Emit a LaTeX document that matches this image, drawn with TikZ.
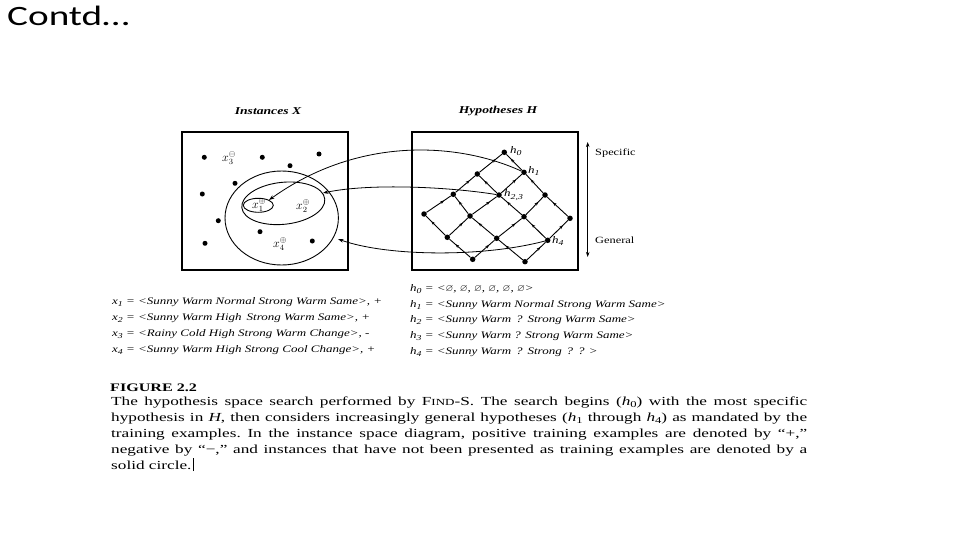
\documentclass[tikz,border=0pt]{standalone}
\usepackage{amssymb}
\usepackage{fontspec}
\setmainfont{Liberation Serif}
\newfontfamily\titlefont[FakeStretch=1.4]{Carlito}
\newfontfamily\capfont[FakeStretch=1.4]{Liberation Serif}
\newfontfamily\figfont[FakeStretch=1.3]{Liberation Serif}
\usetikzlibrary{arrows.meta,decorations.markings}
\newcommand{\sbs}[1]{\raisebox{-0.5ex}{\fontsize{7.5}{7.5}\selectfont #1}}
\newcommand{\capsub}[1]{\raisebox{-0.4ex}{\fontsize{9}{9}\selectfont #1}}
\newcommand{\findS}{F{\fontsize{9.3}{10}\selectfont IND}-S}
\begin{document}
\begin{tikzpicture}[x=1pt,y=-1pt,
  dot/.style={circle,fill=black,inner sep=0pt,minimum size=5.5pt},
  idot/.style={circle,fill=black,inner sep=0pt,minimum size=5pt},
  latedge/.style={line width=0.9pt,postaction={decorate},
    decoration={markings,mark=at position 0.72 with {\arrow{Stealth[length=3.8pt,width=3pt]}}}},
  curve/.style={line width=0.8pt,-{Stealth[length=5.5pt,width=3.8pt]}},
  frame/.style={line width=1.2pt},
  lab/.style={anchor=base west,inner sep=0pt,font={\figfont\fontsize{10}{12}\selectfont\itshape}},
  hlab/.style={anchor=west,inner sep=0pt,font={\figfont\fontsize{10}{12}\selectfont\itshape}},
  title/.style={inner sep=0pt,font={\figfont\fontsize{10.5}{12}\selectfont\bfseries\itshape}},
  sg/.style={anchor=west,inner sep=0pt,font={\figfont\fontsize{9.5}{11}\selectfont}},
  xlab/.style={inner sep=0pt,font={\fontsize{11.5}{13}\selectfont}},
  capl/.style={anchor=base west,inner sep=0pt,font={\capfont\fontsize{12.3}{15}\selectfont\frenchspacing}}]
\useasboundingbox (0,0) rectangle (960,540);
\fill[white] (0,0) rectangle (960,540);

% slide title
\node[anchor=base west,inner sep=0pt,font={\titlefont\fontsize{28}{30}\selectfont}] (contd) at (7,26) {Contd…};

% titles
\node[title] (tinst) at (268,111) {Instances X};
\node[title] (thyp) at (498,111) {Hypotheses H};

% frames
\draw[frame] (182,132) rectangle (348,270);
\draw[frame] (412,132) rectangle (578,270);

% instance dots
\node[idot] (d1) at (204.3,157.3) {};
\node[idot] (d2) at (262.3,157.3) {};
\node[idot] (d3) at (319,154) {};
\node[idot] (d4) at (290,165.7) {};
\node[idot] (d5) at (235,183.3) {};
\node[idot] (d6) at (202.3,194) {};
\node[idot] (d7) at (218.3,220.7) {};
\node[idot] (d8) at (260,231.7) {};
\node[idot] (d9) at (205,243.3) {};
\node[idot] (d10) at (312.3,241) {};

% instance labels
\node[xlab] (x3) at (229,158) {$x^{\ominus}_{3}$};
\node[xlab] (x1) at (259,205) {$x^{\oplus}_{1}$};
\node[xlab] (x2) at (303,206) {$x^{\oplus}_{2}$};
\node[xlab] (x4) at (280,244) {$x^{\oplus}_{4}$};

% sets
\draw[line width=0.9pt] (258.3,205.3) ellipse [x radius=15, y radius=7];
\draw[line width=0.9pt,rotate around={6:(283.3,203.3)}] (283.3,203.3) ellipse [x radius=41.7, y radius=21];
\draw[line width=0.9pt] (281.7,218) ellipse [x radius=56.7, y radius=47];
\coordinate (x1p) at (269,200);
\coordinate (e2) at (323,193);
\coordinate (e3) at (338,239);

% lattice nodes
\node[dot] (n00) at (504.3,152.3) {};
\node[dot] (n10) at (477.3,174) {};
\node[dot] (n01) at (524,172.3) {};
\node[dot] (n20) at (453.3,194.3) {};
\node[dot] (n11) at (499,195) {};
\node[dot] (n02) at (545,195) {};
\node[dot] (n30) at (424,214) {};
\node[dot] (n21) at (470,216) {};
\node[dot] (n12) at (524,216.7) {};
\node[dot] (n03) at (570,218.3) {};
\node[dot] (n31) at (447.3,237.3) {};
\node[dot] (n22) at (496.7,238.3) {};
\node[dot] (n13) at (547.7,240.3) {};
\node[dot] (n32) at (472.7,259.3) {};
\node[dot] (n23) at (525,261.7) {};

% lattice edges (arrow toward more specific node)
\foreach \lo/\hi in {n10/n00,n01/n00,n20/n10,n11/n10,n11/n01,n02/n01,
  n30/n20,n21/n20,n21/n11,n12/n11,n12/n02,n03/n02,
  n31/n30,n31/n21,n22/n21,n22/n12,n13/n12,n13/n03,
  n32/n31,n32/n22,n23/n22,n23/n13}
  \draw[latedge] (\lo) -- (\hi);

% h labels
\node[hlab] (lh0) at (510,151) {h\sbs{0}};
\node[hlab] (lh1) at (528,171) {h\sbs{1}};
\node[hlab] (lh23) at (504,195) {h\sbs{2,3}};
\node[hlab] (lh4) at (552,241) {h\sbs{4}};

% mapping curves
\draw[curve] (n01) .. controls (460,143) and (360,135) .. (x1p);
\draw[curve] (n11) .. controls (450,187) and (370,183) .. (e2);
\draw[curve] (n13) .. controls (480,258) and (385,256) .. (e3);

% specific / general
\coordinate (sp) at (587.7,142);
\coordinate (ge) at (587.7,257);
\draw[line width=0.8pt,{Stealth[length=5pt,width=3.5pt]}-{Stealth[length=5pt,width=3.5pt]}] (sp) -- (ge);
\node[sg] (spec) at (595,153) {Specific};
\node[sg] (gen) at (595,240) {General};

% instance descriptions
\node[lab] (tx1) at (112,304) {x\sbs{1} = <Sunny Warm Normal Strong Warm Same>, +};
\node[lab] (tx2) at (112,320) {x\sbs{2} = <Sunny Warm High\, Strong Warm Same>, +};
\node[lab] (tx3) at (112,336) {x\sbs{3} = <Rainy Cold High Strong Warm Change>, -};
\node[lab] (tx4) at (112,352) {x\sbs{4} = <Sunny Warm High Strong Cool Change>, +};

% hypothesis descriptions
\node[lab] (th0) at (410,291) {h\sbs{0} = <$\varnothing$, $\varnothing$, $\varnothing$, $\varnothing$, $\varnothing$, $\varnothing$>};
\node[lab] (th1) at (410,307) {h\sbs{1} = <Sunny Warm Normal Strong Warm Same>};
\node[lab] (th2) at (410,322) {h\sbs{2} = <Sunny Warm\,\ ?\,\ Strong Warm Same>};
\node[lab] (th3) at (410,338) {h\sbs{3} = <Sunny Warm ? Strong Warm Same>};
\node[lab] (th4) at (410,354) {h\sbs{4} = <Sunny Warm\,\ ?\,\ Strong\,\ ?\,\ ? >};

% caption
\node[capl,font={\capfont\fontsize{11.5}{14}\selectfont\bfseries}] (fig) at (110,391) {FIGURE 2.2};
\node[capl] (c1) at (111,405) {\makebox[696pt][s]{The hypothesis space search performed by \findS. The search begins (\textit{h}\capsub{0}) with the most specific}};
\node[capl] (c2) at (111,421) {\makebox[696pt][s]{hypothesis in \textit{H}, then considers increasingly general hypotheses (\textit{h}\capsub{1} through \textit{h}\capsub{4}) as mandated by the}};
\node[capl] (c3) at (111,437) {\makebox[696pt][s]{training examples. In the instance space diagram, positive training examples are denoted by “+,”}};
\node[capl] (c4) at (111,453) {\makebox[696pt][s]{negative by “−,” and instances that have not been presented as training examples are denoted by a}};
\node[capl] (c5) at (111,469) {solid circle.};
\draw[line width=0.7pt] ([xshift=2pt,yshift=-2pt]c5.base east) -- ([xshift=2pt,yshift=11pt]c5.base east);
\end{tikzpicture}
\end{document}
